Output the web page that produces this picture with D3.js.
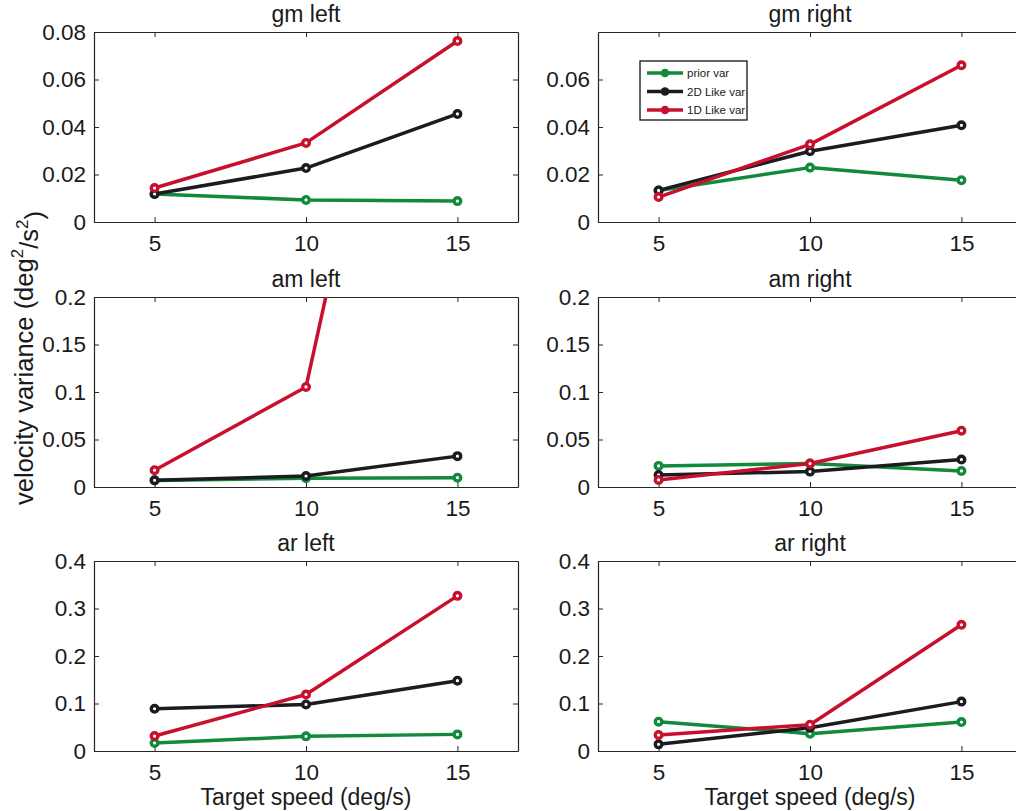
<!DOCTYPE html>
<html>
<head>
<meta charset="utf-8">
<script src="https://cdn.jsdelivr.net/npm/d3@7"></script>
<style>
  html, body { margin: 0; padding: 0; background: #fff; }
  svg { display: block; font-family: "Liberation Sans", Arial, Helvetica, sans-serif; }
</style>
</head>
<body>
<svg id="chart" width="1016" height="811"></svg>
<script>
// Target speeds on the x axis (deg/s)
const speeds = [5, 10, 15];

// One panel per condition, read row by row (left, right)
const panelTitles = ["gm left", "gm right", "am left", "am right", "ar left", "ar right"];

// Variance estimates per panel, one value per target speed
const priorVar = [
  [0.0118, 0.0093, 0.0088],
  [0.0133, 0.0229, 0.0176],
  [0.0069, 0.0092, 0.0098],
  [0.0222, 0.0247, 0.0169],
  [0.0168, 0.0308, 0.0350],
  [0.0617, 0.0365, 0.0610]
];
const like2DVar = [
  [0.0118, 0.0227, 0.0455],
  [0.0133, 0.0298, 0.0407],
  [0.0071, 0.0116, 0.0325],
  [0.0127, 0.0162, 0.0289],
  [0.0890, 0.0980, 0.1480],
  [0.0140, 0.0490, 0.1040]
];
const like1DVar = [
  [0.0143, 0.0333, 0.0762],
  [0.0105, 0.0327, 0.0660],
  [0.0177, 0.1053, 0.8300],
  [0.0074, 0.0247, 0.0593],
  [0.0315, 0.1190, 0.3266],
  [0.0336, 0.0554, 0.2657]
];

// Axis ranges and tick values
const yMax = [0.08, 0.08, 0.2, 0.2, 0.4, 0.4];
const yTicks = [
  [0, 0.02, 0.04, 0.06, 0.08],
  [0, 0.02, 0.04, 0.06],
  [0, 0.05, 0.1, 0.15, 0.2],
  [0, 0.05, 0.1, 0.15, 0.2],
  [0, 0.1, 0.2, 0.3, 0.4],
  [0, 0.1, 0.2, 0.3, 0.4]
];
const xDomain = [3, 17];
const xTicks = [5, 10, 15];

const seriesNames = ["prior var", "2D Like var", "1D Like var"];
const seriesColors = ["#128a3c", "#1b1b20", "#c8102e"];

const svg = d3.select("#chart");

const colLeft = [94, 598];
const rowTop = [32, 297, 561];
const plotW = 424, plotH = 190;
const axisColor = "#262626";
const fmt = d => String(+d.toFixed(3));

panelTitles.forEach((title, i) => {
  const col = i % 2, row = Math.floor(i / 2);
  const ox = colLeft[col], oy = rowTop[row];
  const g = svg.append("g").attr("transform", `translate(${ox},${oy})`);

  const x = d3.scaleLinear().domain(xDomain).range([0, plotW]);
  const y = d3.scaleLinear().domain([0, yMax[i]]).range([plotH, 0]);

  const clipId = "clip" + i;
  g.append("clipPath").attr("id", clipId)
    .append("rect").attr("x", 0).attr("y", 0).attr("width", plotW).attr("height", plotH);

  // Axes: labelled left/bottom, mirrored inward ticks on top/right
  const tickLen = 5;
  const left = g.append("g").call(d3.axisLeft(y).tickValues(yTicks[i]).tickFormat(fmt).tickSizeInner(-tickLen).tickSizeOuter(0).tickPadding(8));
  const right = g.append("g").attr("transform", `translate(${plotW},0)`)
    .call(d3.axisRight(y).tickValues(yTicks[i]).tickFormat("").tickSizeInner(-tickLen).tickSizeOuter(0));
  const bottom = g.append("g").attr("transform", `translate(0,${plotH})`)
    .call(d3.axisBottom(x).tickValues(xTicks).tickFormat(d3.format("d")).tickSizeInner(-tickLen).tickSizeOuter(0).tickPadding(13));
  const top = g.append("g")
    .call(d3.axisTop(x).tickValues(xTicks).tickFormat("").tickSizeInner(-tickLen).tickSizeOuter(0));

  [left, right, bottom, top].forEach(a => {
    a.selectAll("path.domain").attr("stroke", axisColor).attr("stroke-width", 1.2);
    a.selectAll(".tick line").attr("stroke", axisColor).attr("stroke-width", 1);
    a.selectAll(".tick text").attr("fill", "#1a1a1a").attr("font-size", "22.5px")
      .attr("font-family", "Liberation Sans, Arial, sans-serif");
  });
  bottom.selectAll(".tick text").attr("dy", "0.71em");

  // Title
  g.append("text")
    .attr("x", plotW / 2).attr("y", -10)
    .attr("text-anchor", "middle")
    .attr("font-size", "23px").attr("fill", "#1a1a1a")
    .text(title);

  // Series
  const plotData = [priorVar[i], like2DVar[i], like1DVar[i]];
  const line = d3.line().x((d, k) => x(speeds[k])).y(d => y(d));
  const marks = g.append("g").attr("clip-path", `url(#${clipId})`);
  plotData.forEach((vals, s) => {
    marks.append("path")
      .datum(vals)
      .attr("d", line)
      .attr("fill", "none")
      .attr("stroke", seriesColors[s])
      .attr("stroke-width", 3.5)
      .attr("stroke-linejoin", "round");
    marks.selectAll(null)
      .data(vals)
      .enter().append("circle")
      .attr("cx", (d, k) => x(speeds[k]))
      .attr("cy", d => y(d))
      .attr("r", 3.3)
      .attr("fill", "#fff")
      .attr("stroke", seriesColors[s])
      .attr("stroke-width", 3.4);
  });

  // X axis label on bottom row
  if (row === 2) {
    g.append("text")
      .attr("x", plotW / 2).attr("y", plotH + 54)
      .attr("text-anchor", "middle")
      .attr("font-size", "23px").attr("fill", "#1a1a1a")
      .text("Target speed (deg/s)");
  }

  // Legend in the top-right panel
  if (i === 1) {
    const lg = svg.append("g").attr("transform", "translate(640,61)");
    lg.append("rect").attr("x", 0).attr("y", 0).attr("width", 107).attr("height", 59)
      .attr("fill", "#fff").attr("stroke", "#111").attr("stroke-width", 1.3);
    seriesNames.forEach((name, s) => {
      const yy = 12 + s * 18.5;
      lg.append("line").attr("x1", 7).attr("x2", 43).attr("y1", yy).attr("y2", yy)
        .attr("stroke", seriesColors[s]).attr("stroke-width", 3.5);
      lg.append("circle").attr("cx", 25).attr("cy", yy).attr("r", 4.3).attr("fill", seriesColors[s]);
      lg.append("text").attr("x", 47).attr("y", yy).attr("dy", "0.36em")
        .attr("font-size", "11.5px").attr("fill", "#1a1a1a").text(name);
    });
  }
});

// Shared y axis label
const yl = svg.append("text")
  .attr("transform", "translate(33,358) rotate(-90)")
  .attr("text-anchor", "middle")
  .attr("font-size", "25.5px").attr("fill", "#1a1a1a");
yl.append("tspan").text("velocity variance (deg");
yl.append("tspan").attr("font-size", "17px").attr("dy", "-0.6em").text("2");
yl.append("tspan").attr("dy", "0.6em").text("/s");
yl.append("tspan").attr("font-size", "17px").attr("dy", "-0.6em").text("2");
yl.append("tspan").attr("dy", "0.6em").text(")");
</script>
</body>
</html>
